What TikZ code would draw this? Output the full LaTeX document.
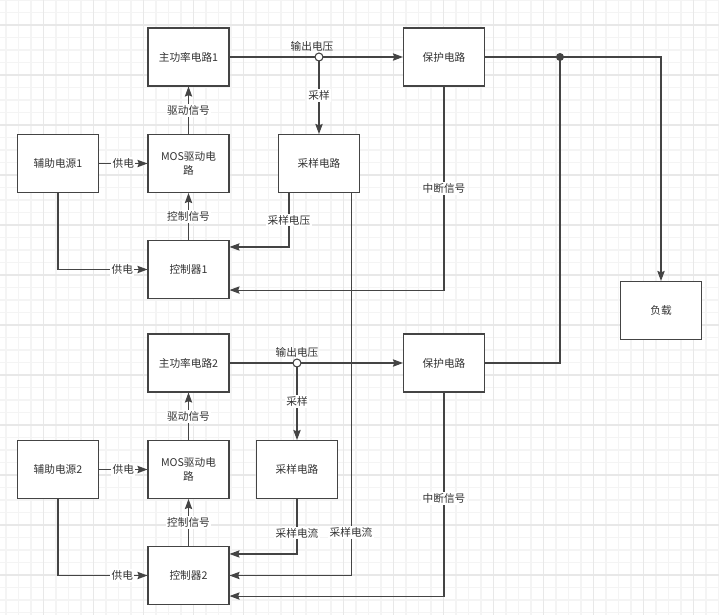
\documentclass[tikz,border=0pt]{standalone}
\usepackage{fontspec}
\setmainfont{Noto Sans CJK SC}
\usetikzlibrary{arrows.meta}

\definecolor{wiregray}{RGB}{68,68,68}
\definecolor{txtgray}{RGB}{51,51,51}
\definecolor{gridminor}{RGB}{244,244,244}
\definecolor{gridmajor}{RGB}{232,232,232}

\tikzset{
  blk/.style={draw=wiregray, fill=white, line width=0.8pt, text=txtgray,
    minimum width=60.75pt, minimum height=43.5pt, inner sep=1pt,
    align=center, font=\fontsize{8pt}{10pt}\selectfont},
  wire/.style={draw=wiregray, line width=0.8pt},
  lbl/.style={fill=white, inner sep=1pt, text=txtgray,
    font=\fontsize{8pt}{10pt}\selectfont}
}

\begin{document}
\begin{tikzpicture}[x=0.75pt, y=-0.75pt, >={Stealth[length=7.5pt,width=5.5pt,inset=1pt]}]

    % ==================================================
    % 背景网格
    % ==================================================
    \useasboundingbox (0,0) rectangle (719,615);
    \fill[white] (0,0) rectangle (719,615);
    \foreach \x in {6,18.5,...,719} \draw[gridminor, line width=0.8pt] (\x,0) -- (\x,615);
    \foreach \y in {0,12.5,...,615} \draw[gridminor, line width=0.8pt] (0,\y) -- (719,\y);
    \foreach \x in {43.5,93.5,...,719} \draw[gridmajor, line width=0.8pt] (\x,0) -- (\x,615);
    \foreach \y in {25,75,...,615} \draw[gridmajor, line width=0.8pt] (0,\y) -- (719,\y);

    % ==================================================
    % 第1路
    % ==================================================

    % 方框
    \node[blk] (main1) at (188.5,57) {主功率电路1};
    \node[blk] (aux1)  at (58,163.5) {辅助电源1};
    \node[blk] (mos1)  at (188.5,163.5) {MOS驱动电\\路};
    \node[blk] (samp1) at (319,163.5) {采样电路};
    \node[blk] (ctrl1) at (188.5,269.5) {控制器1};
    \node[blk] (prot1) at (444,57) {保护电路};

    % 输出电压采样点
    \coordinate (vout1) at (319,57);

    % 连线
    \draw[wire,->] (main1) -- (prot1);
    \draw[wire,->] (vout1) -- node[lbl] (smp1) {采样} (samp1);
    \draw[wire,->] (mos1) -- node[lbl] (drv1) {驱动信号} (main1);
    \draw[wire,->] (aux1) -- node[lbl] (pwr1a) {供电} (mos1);
    \draw[wire,->] (ctrl1) -- node[lbl] (ctl1) {控制信号} (mos1);
    \draw[wire,->] (aux1) |- node[lbl, pos=0.86] (pwr1b) {供电} (ctrl1);
    \draw[wire,->] ([xshift=8.25pt]samp1.south west) |- node[lbl, pos=0.25] (sv1) {采样电压}
      ([yshift=-5.25pt]ctrl1.north east);
    \draw[wire,->] (prot1) |- node[lbl, pos=0.25] (int1) {中断信号}
      ([yshift=6.75pt]ctrl1.south east);

    % ==================================================
    % 第2路
    % ==================================================

    % 方框
    \node[blk] (main2) at (188.5,363) {主功率电路2};
    \node[blk] (aux2)  at (58,469.5) {辅助电源2};
    \node[blk] (mos2)  at (188.5,469.5) {MOS驱动电\\路};
    \node[blk] (samp2) at (297,469.5) {采样电路};
    \node[blk] (ctrl2) at (188.5,575.5) {控制器2};
    \node[blk] (prot2) at (444,363) {保护电路};

    % 输出电压采样点
    \coordinate (vout2) at (297,363);

    % 连线
    \draw[wire,->] (main2) -- (prot2);
    \draw[wire,->] (vout2) -- node[lbl] (smp2) {采样} (samp2);
    \draw[wire,->] (mos2) -- node[lbl] (drv2) {驱动信号} (main2);
    \draw[wire,->] (aux2) -- node[lbl] (pwr2a) {供电} (mos2);
    \draw[wire,->] (ctrl2) -- node[lbl] (ctl2) {控制信号} (mos2);
    \draw[wire,->] (aux2) |- node[lbl, pos=0.86] (pwr2b) {供电} (ctrl2);
    \draw[wire,->] (samp2) |- node[lbl, pos=0.31] (si2) {采样电流}
      ([yshift=-6pt]ctrl2.north east);
    \draw[wire,->] ([xshift=-6.75pt]samp1.south east) |- node[lbl, pos=0.444] (si1) {采样电流} (ctrl2);
    \draw[wire,->] (prot2) |- node[lbl, pos=0.26] (int2) {中断信号}
      ([yshift=6.75pt]ctrl2.south east);

    % ==================================================
    % 负载
    % ==================================================
    \node[blk] (load) at (661,310.5) {负载};
    \coordinate (bus) at (560,57);

    \draw[wire,->] (prot1) -- (bus) -| (load);
    \draw[wire] (prot2) -| (bus);

    % 节点
    \fill[wiregray] (bus) circle (3pt);
    \draw[wire, fill=white] (vout1) circle (3pt);
    \draw[wire, fill=white] (vout2) circle (3pt);

    % 输出电压
    \node[lbl, fill=none] (vl1) at (312,46) {输出电压};
    \node[lbl, fill=none] (vl2) at (297,352) {输出电压};

  \end{tikzpicture}
\end{document}
